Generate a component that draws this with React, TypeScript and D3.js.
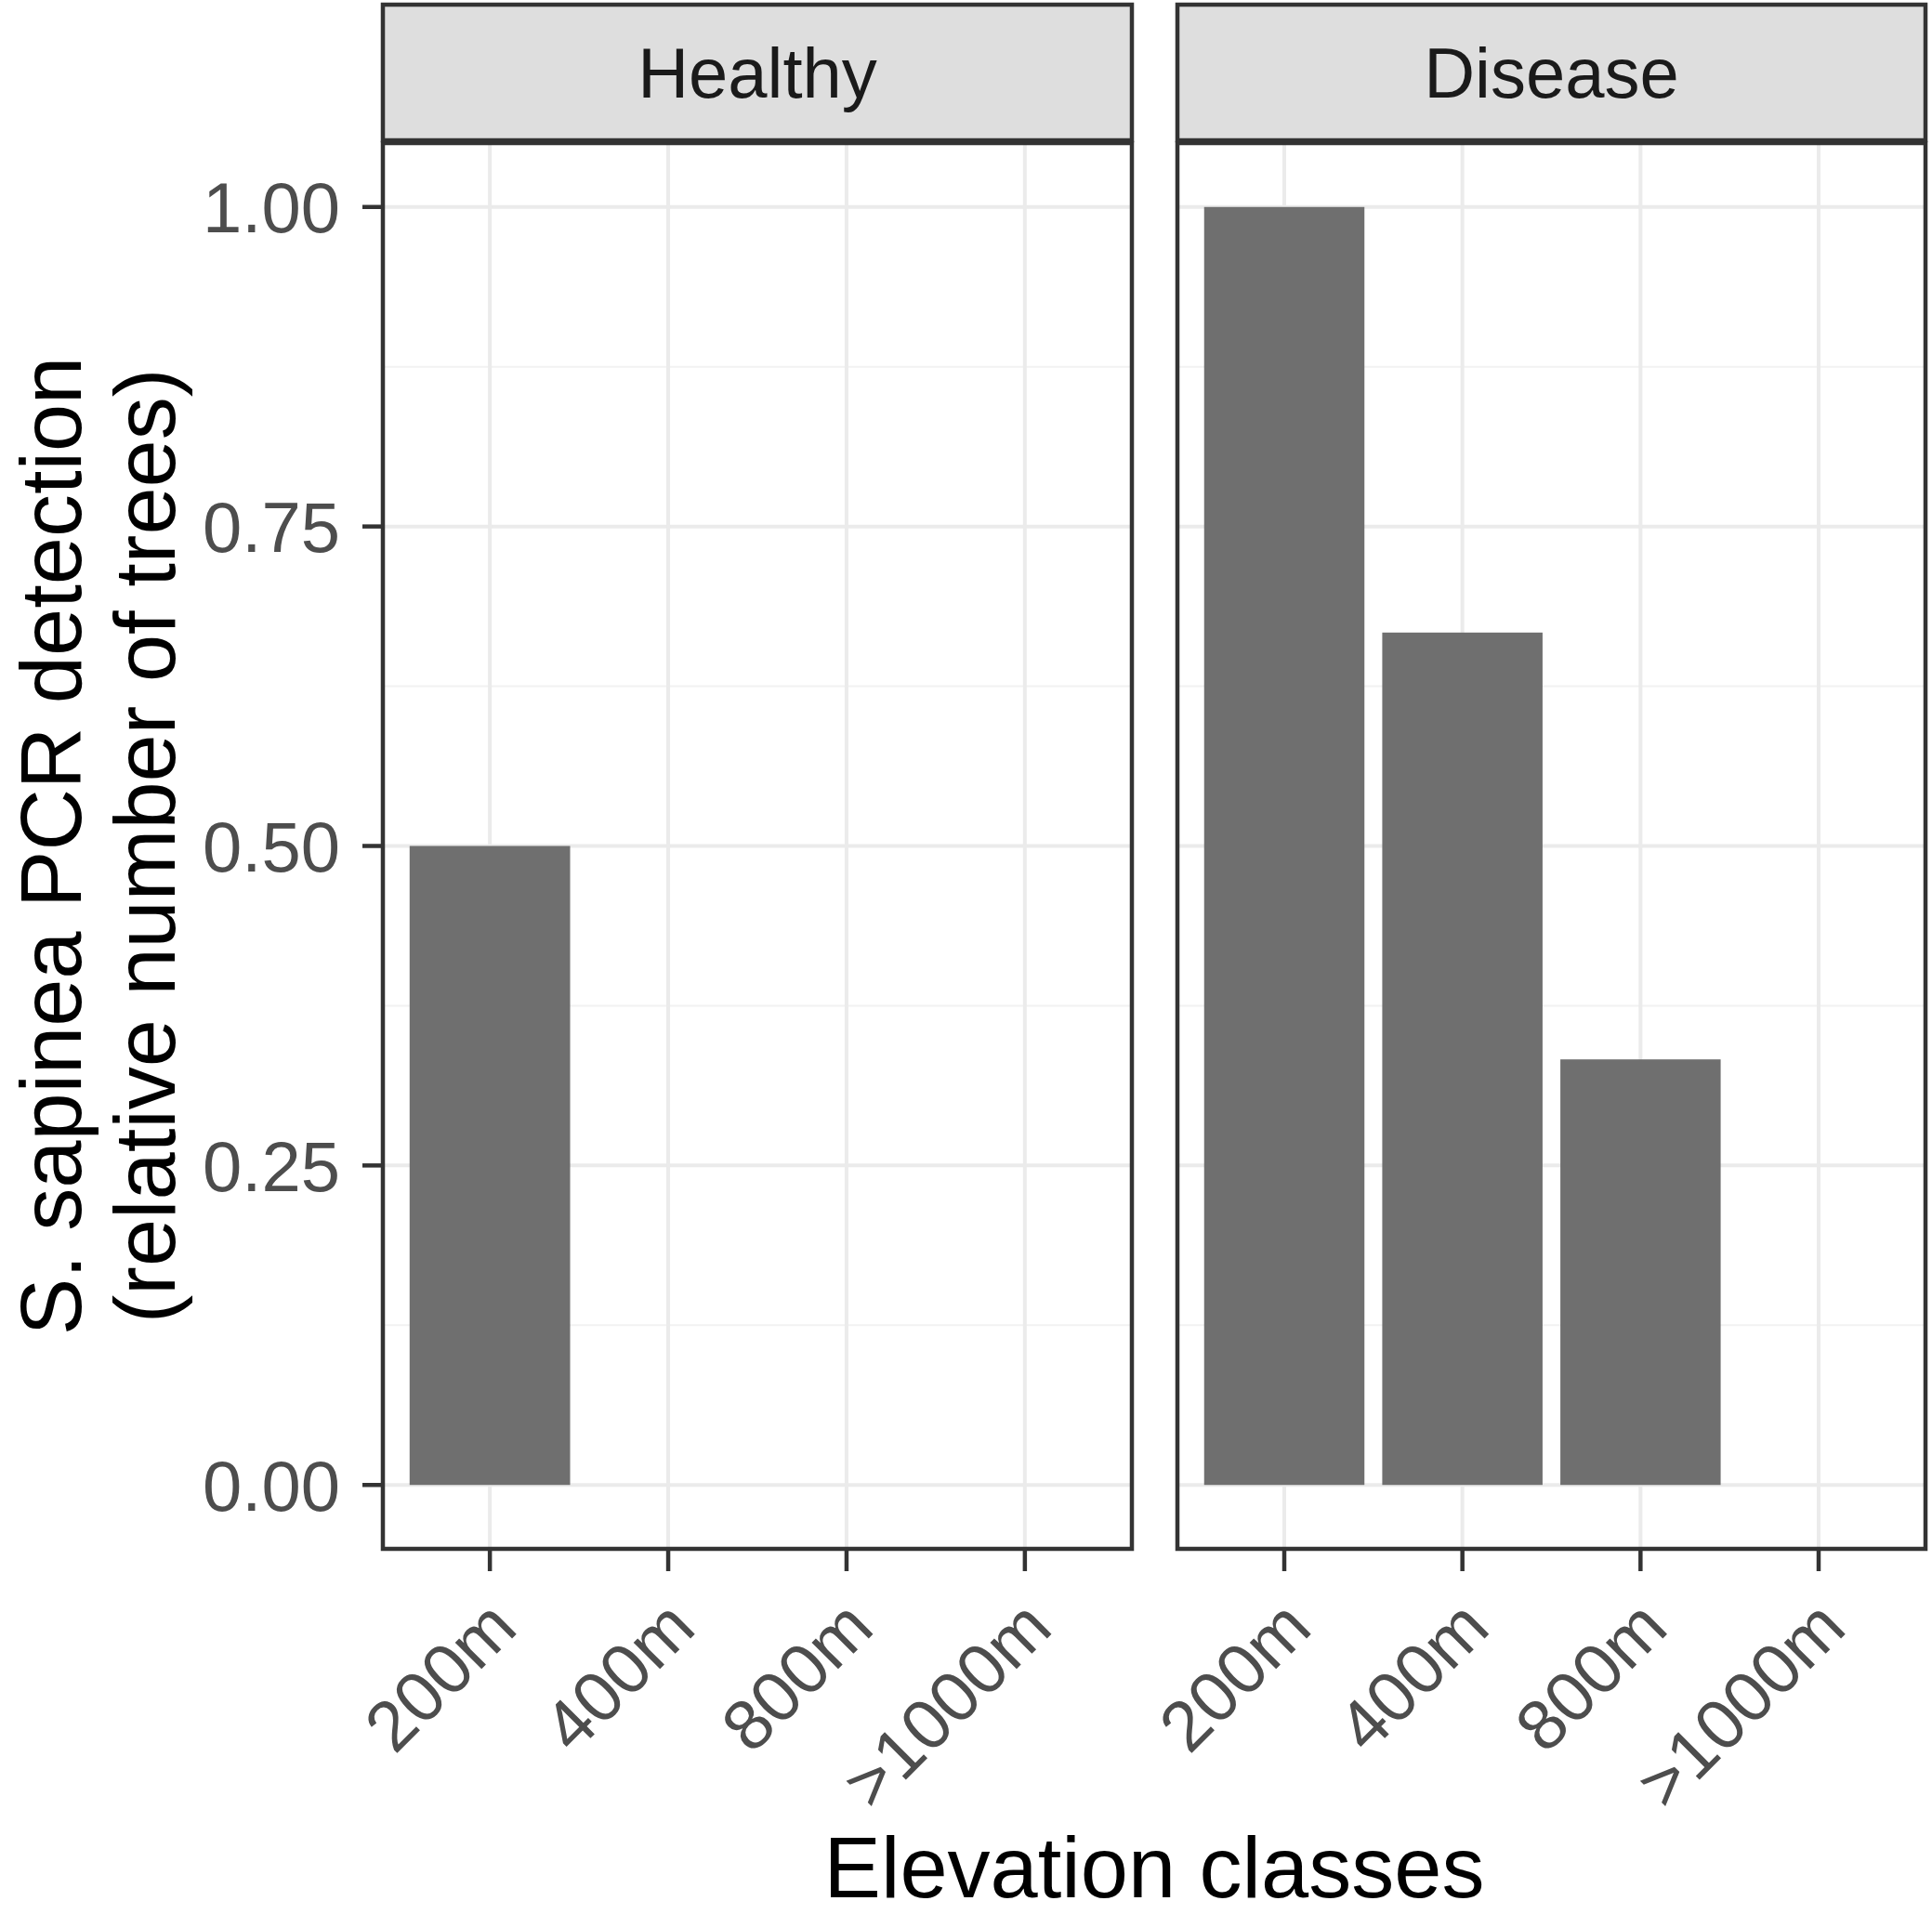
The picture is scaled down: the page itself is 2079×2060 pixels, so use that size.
import React, { useEffect, useRef } from "react";
import * as d3 from "d3";

const ELEVATIONS = ["200m", "400m", "800m", ">1000m"];
const PANELS = ["Healthy", "Disease"];
const HEALTHY = [0.5, 0, 0, 0];
const DISEASE = [1.0, 0.667, 0.333, 0];
const Y_TICKS = [0, 0.25, 0.5, 0.75, 1.0];
const Y_MINOR = [0.125, 0.375, 0.625, 0.875];

const WIDTH = 2079;
const HEIGHT = 2060;
const FONT = "'Liberation Sans', Arial, Helvetica, sans-serif";

const App: React.FC = () => {
  const ref = useRef<SVGSVGElement>(null);

  useEffect(() => {
    if (!ref.current) return;
    const svg = d3.select(ref.current);
    svg.selectAll("*").remove();

    const stripTop = 5;
    const stripBottom = 151;
    const panelTop = 154;
    const panelBottom = 1667;
    const panelX = [
      [412, 1218],
      [1267, 2072],
    ];
    const values = [HEALTHY, DISEASE];

    const y = d3.scaleLinear().domain([-0.05, 1.05]).range([panelBottom, panelTop]);

    svg.append("rect").attr("width", WIDTH).attr("height", HEIGHT).attr("fill", "white");

    PANELS.forEach((name, i) => {
      const [x0, x1] = panelX[i];
      const x = d3
        .scaleBand<string>()
        .domain(ELEVATIONS)
        .range([x0, x1])
        .paddingInner(0.1)
        .paddingOuter(0.15);
      const cx = (d: string) => (x(d) as number) + x.bandwidth() / 2;

      const g = svg.append("g");

      // minor grid
      g.selectAll("line.minor")
        .data(Y_MINOR)
        .enter()
        .append("line")
        .attr("x1", x0)
        .attr("x2", x1)
        .attr("y1", (d) => y(d))
        .attr("y2", (d) => y(d))
        .attr("stroke", "#f2f2f2")
        .attr("stroke-width", 2);

      // major grid
      g.selectAll("line.major")
        .data(Y_TICKS)
        .enter()
        .append("line")
        .attr("x1", x0)
        .attr("x2", x1)
        .attr("y1", (d) => y(d))
        .attr("y2", (d) => y(d))
        .attr("stroke", "#ebebeb")
        .attr("stroke-width", 4);

      g.selectAll("line.vgrid")
        .data(ELEVATIONS)
        .enter()
        .append("line")
        .attr("x1", cx)
        .attr("x2", cx)
        .attr("y1", panelTop)
        .attr("y2", panelBottom)
        .attr("stroke", "#ebebeb")
        .attr("stroke-width", 4);

      // bars
      const bars = ELEVATIONS.map((e, j) => ({ e, v: values[i][j] })).filter((d) => d.v > 0);
      g.selectAll("rect.bar")
        .data(bars)
        .enter()
        .append("rect")
        .attr("x", (d) => x(d.e) as number)
        .attr("width", x.bandwidth())
        .attr("y", (d) => y(d.v))
        .attr("height", (d) => y(0) - y(d.v))
        .attr("fill", "#6f6f6f");

      // panel border
      g.append("rect")
        .attr("x", x0)
        .attr("y", panelTop)
        .attr("width", x1 - x0)
        .attr("height", panelBottom - panelTop)
        .attr("fill", "none")
        .attr("stroke", "#333333")
        .attr("stroke-width", 4.5);

      // strip
      g.append("rect")
        .attr("x", x0)
        .attr("y", stripTop)
        .attr("width", x1 - x0)
        .attr("height", stripBottom - stripTop)
        .attr("fill", "#dedede")
        .attr("stroke", "#333333")
        .attr("stroke-width", 4.5);

      g.append("text")
        .attr("x", (x0 + x1) / 2)
        .attr("y", (stripTop + stripBottom) / 2 + 27)
        .attr("text-anchor", "middle")
        .attr("font-family", FONT)
        .attr("font-size", 76)
        .attr("fill", "#1a1a1a")
        .text(name);

      // x ticks
      g.selectAll("line.xtick")
        .data(ELEVATIONS)
        .enter()
        .append("line")
        .attr("x1", cx)
        .attr("x2", cx)
        .attr("y1", panelBottom)
        .attr("y2", panelBottom + 24)
        .attr("stroke", "#333333")
        .attr("stroke-width", 4.5);

      g.selectAll("text.xlab")
        .data(ELEVATIONS)
        .enter()
        .append("text")
        .attr("transform", (d) => `translate(${cx(d) - 6},${panelBottom + 50}) rotate(-45)`)
        .attr("dy", "0.71em")
        .attr("text-anchor", "end")
        .attr("font-family", FONT)
        .attr("font-size", 76)
        .attr("fill", "#4d4d4d")
        .text((d) => d);

      // y axis on the first panel only
      if (i === 0) {
        g.selectAll("line.ytick")
          .data(Y_TICKS)
          .enter()
          .append("line")
          .attr("x1", x0 - 22)
          .attr("x2", x0)
          .attr("y1", (d) => y(d))
          .attr("y2", (d) => y(d))
          .attr("stroke", "#333333")
          .attr("stroke-width", 4.5);

        g.selectAll("text.ylab")
          .data(Y_TICKS)
          .enter()
          .append("text")
          .attr("x", x0 - 46)
          .attr("y", (d) => y(d))
          .attr("dy", "0.36em")
          .attr("text-anchor", "end")
          .attr("font-family", FONT)
          .attr("font-size", 76)
          .attr("fill", "#4d4d4d")
          .text((d) => d3.format(".2f")(d));
      }
    });

    // axis titles
    const midY = (panelTop + panelBottom) / 2;
    svg
      .append("text")
      .attr("transform", `translate(87,${midY}) rotate(-90)`)
      .attr("text-anchor", "middle")
      .attr("font-family", FONT)
      .attr("font-size", 92)
      .attr("fill", "black")
      .text("S. sapinea PCR detection");

    svg
      .append("text")
      .attr("transform", `translate(188,${midY}) rotate(-90)`)
      .attr("text-anchor", "middle")
      .attr("font-family", FONT)
      .attr("font-size", 92)
      .attr("fill", "black")
      .text("(relative number of trees)");

    svg
      .append("text")
      .attr("x", (412 + 2072) / 2)
      .attr("y", 2042)
      .attr("text-anchor", "middle")
      .attr("font-family", FONT)
      .attr("font-size", 92)
      .attr("fill", "black")
      .text("Elevation classes");
  }, []);

  return (
    <svg
      ref={ref}
      width={WIDTH}
      height={HEIGHT}
      viewBox={`0 0 ${WIDTH} ${HEIGHT}`}
      style={{ position: "absolute", left: 0, top: 0, display: "block" }}
    />
  );
};

export default App;
